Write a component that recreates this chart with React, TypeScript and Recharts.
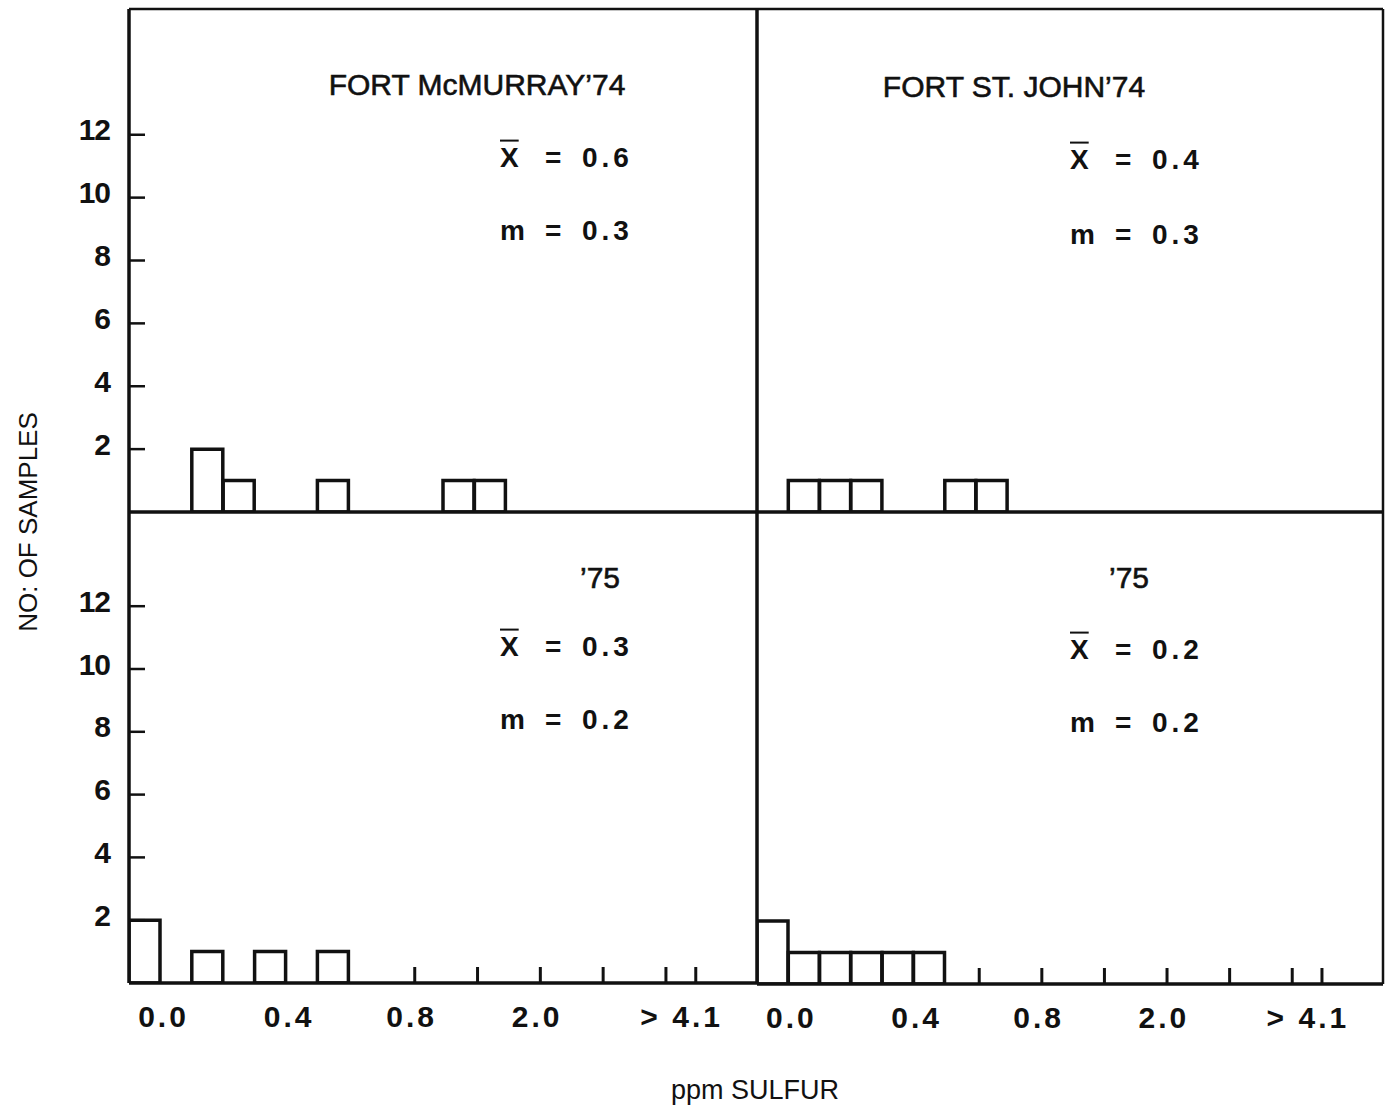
import { BarChart, Bar, XAxis, YAxis, ReferenceLine } from "recharts";

// bin centres, each bin is 0.1 ppm wide (20 bins per panel)
const binCentres = [
  0.5, 1.5, 2.5, 3.5, 4.5, 5.5, 6.5, 7.5, 8.5, 9.5,
  10.5, 11.5, 12.5, 13.5, 14.5, 15.5, 16.5, 17.5, 18.5, 19.5,
];

// number of samples per bin
const fortMcMurray74 = [0, 0, 2, 1, 0, 0, 1, 0, 0, 0, 1, 1, 0, 0, 0, 0, 0, 0, 0, 0];
const fortStJohn74 = [0, 1, 1, 1, 0, 0, 1, 1, 0, 0, 0, 0, 0, 0, 0, 0, 0, 0, 0, 0];
const fortMcMurray75 = [2, 0, 1, 0, 1, 0, 1, 0, 0, 0, 0, 0, 0, 0, 0, 0, 0, 0, 0, 0];
const fortStJohn75 = [2, 1, 1, 1, 1, 1, 0, 0, 0, 0, 0, 0, 0, 0, 0, 0, 0, 0, 0, 0];

const yTicks = [2, 4, 6, 8, 10, 12];
const xLabelTicks = [1.1, 5.1, 9, 13, 17.6];
const xLabels = ["0.0", "0.4", "0.8", "2.0", "> 4.1"];
const leftMarks = [9.1, 11.1, 13.1, 15.1, 17.1, 18.05];
const rightMarks = [7.1, 9.1, 11.1, 13.1, 15.1, 17.1, 18.05];

const titles = ["FORT McMURRAY’74", "FORT ST. JOHN’74", "’75", "’75"];
const means = ["0.6", "0.4", "0.3", "0.2"];
const medians = ["0.3", "0.3", "0.2", "0.2"];

const INK = "#111";
const FONT = "'Liberation Sans', Arial, sans-serif";
const LINE = 3.5;

function YTick(props: any) {
  const { x, y, payload } = props;
  return (
    <g>
      <line x1={x} x2={x + 16} y1={y} y2={y} stroke={INK} strokeWidth={2.5} />
      <text
        x={x - 19}
        y={y - 5}
        textAnchor="end"
        dominantBaseline="central"
        fontFamily={FONT}
        fontWeight="bold"
        fontSize={30}
        letterSpacing={-1}
        fill={INK}
      >
        {payload.value}
      </text>
    </g>
  );
}

function XTick(props: any) {
  const { x, y, payload, marks } = props;
  const v = payload.value;
  const i = xLabelTicks.indexOf(v);
  return (
    <g>
      {marks.includes(v) && (
        <line x1={x} x2={x} y1={y} y2={y - 16} stroke={INK} strokeWidth={3} />
      )}
      {i >= 0 && (
        <text
          x={x}
          y={y + 33}
          textAnchor="middle"
          dominantBaseline="central"
          fontFamily={FONT}
          fontWeight="bold"
          fontSize={30}
          letterSpacing={3}
          fill={INK}
        >
          {xLabels[i]}
        </text>
      )}
    </g>
  );
}

type PanelProps = {
  values: number[];
  left: number;
  top: number;
  width: number;
  height: number;
  margin: { top: number; right: number; bottom: number; left: number };
  yMax: number;
  isLeft: boolean;
  isTop: boolean;
  marks: number[];
};

function Panel({ values, left, top, width, height, margin, yMax, isLeft, isTop, marks }: PanelProps) {
  const data = binCentres.map((x, i) => ({ x, n: values[i] }));
  const ticks = isTop ? [] : [...xLabelTicks, ...marks].sort((a, b) => a - b);
  return (
    <div style={{ position: "absolute", left, top }}>
      <BarChart width={width} height={height} data={data} margin={margin}>
        <XAxis
          type="number"
          dataKey="x"
          domain={[0, 20]}
          ticks={ticks}
          interval={0}
          height={isTop ? 0 : 63}
          tickSize={0}
          tickMargin={0}
          tickLine={false}
          tick={isTop ? false : <XTick marks={marks} />}
          axisLine={{ stroke: INK, strokeWidth: LINE }}
          allowDataOverflow
        />
        <YAxis
          type="number"
          domain={[0, yMax]}
          ticks={isLeft ? yTicks : []}
          interval={0}
          width={isLeft ? 60 : 0}
          tickSize={0}
          tickMargin={0}
          tickLine={false}
          tick={isLeft ? <YTick /> : false}
          axisLine={{ stroke: INK, strokeWidth: LINE }}
          allowDataOverflow
        />
        {isTop && <ReferenceLine y={yMax} stroke={INK} strokeWidth={2.5} />}
        {isTop && <ReferenceLine y={0} stroke={INK} strokeWidth={LINE} />}
        {!isLeft && <ReferenceLine x={0} stroke={INK} strokeWidth={LINE} />}
        {!isLeft && <ReferenceLine x={20} stroke={INK} strokeWidth={2.5} />}
        <Bar
          dataKey="n"
          fill="#fff"
          stroke={INK}
          strokeWidth={LINE}
          barSize={31}
          isAnimationActive={false}
        />
      </BarChart>
    </div>
  );
}

function Stat({ left, top, label, value }: { left: number; top: number; label: string; value: string }) {
  return (
    <div
      style={{
        position: "absolute",
        left,
        top,
        transform: "translateY(-50%)",
        display: "flex",
        fontFamily: FONT,
        fontWeight: "bold",
        fontSize: 28,
        lineHeight: 1.1,
        color: INK,
        whiteSpace: "nowrap",
      }}
    >
      <span style={{ width: 45, textDecoration: label === "X" ? "overline" : "none" }}>{label}</span>
      <span style={{ width: 37 }}>=</span>
      <span style={{ letterSpacing: 4 }}>{value}</span>
    </div>
  );
}

function Title({ cx, cy, text }: { cx: number; cy: number; text: string }) {
  return (
    <div
      style={{
        position: "absolute",
        left: cx,
        top: cy,
        transform: "translate(-50%, -50%)",
        fontFamily: FONT,
        fontSize: 30,
        color: INK,
        whiteSpace: "nowrap",
        WebkitTextStroke: "0.6px #111",
      }}
    >
      {text}
    </div>
  );
}

export default function App() {
  const topMargin = { top: 9, right: 5, bottom: 6, left: 69 };
  const topRightMargin = { top: 9, right: 6, bottom: 6, left: 7 };
  const botMargin = { top: 6, right: 5, bottom: 0, left: 69 };
  const botRightMargin = { top: 6, right: 6, bottom: 0, left: 7 };
  return (
    <div
      style={{
        position: "absolute",
        left: 0,
        top: 0,
        width: 1389,
        height: 1118,
        background: "#fff",
        overflow: "hidden",
      }}
    >
      <Panel values={fortMcMurray74} left={0} top={0} width={762} height={518} margin={topMargin} yMax={16} isLeft isTop marks={[]} />
      <Panel values={fortStJohn74} left={750} top={0} width={639} height={518} margin={topRightMargin} yMax={16} isLeft={false} isTop marks={[]} />
      <Panel values={fortMcMurray75} left={0} top={506} width={762} height={540} margin={botMargin} yMax={15} isLeft isTop={false} marks={leftMarks} />
      <Panel values={fortStJohn75} left={750} top={506} width={639} height={541} margin={botRightMargin} yMax={15} isLeft={false} isTop={false} marks={rightMarks} />

      <Title cx={477} cy={85} text={titles[0]} />
      <Title cx={1014} cy={87} text={titles[1]} />
      <Title cx={600} cy={578} text={titles[2]} />
      <Title cx={1129} cy={578} text={titles[3]} />

      <Stat left={500} top={158} label="X" value={means[0]} />
      <Stat left={500} top={231} label="m" value={medians[0]} />
      <Stat left={1070} top={160} label="X" value={means[1]} />
      <Stat left={1070} top={235} label="m" value={medians[1]} />
      <Stat left={500} top={647} label="X" value={means[2]} />
      <Stat left={500} top={720} label="m" value={medians[2]} />
      <Stat left={1070} top={650} label="X" value={means[3]} />
      <Stat left={1070} top={723} label="m" value={medians[3]} />

      <div
        style={{
          position: "absolute",
          left: 28,
          top: 522,
          transform: "translate(-50%, -50%) rotate(-90deg)",
          fontFamily: FONT,
          fontSize: 26,
          color: INK,
          whiteSpace: "nowrap",
        }}
      >
        NO: OF SAMPLES
      </div>
      <div
        style={{
          position: "absolute",
          left: 755,
          top: 1090,
          transform: "translate(-50%, -50%)",
          fontFamily: FONT,
          fontSize: 27,
          color: INK,
          whiteSpace: "nowrap",
        }}
      >
        ppm SULFUR
      </div>
    </div>
  );
}
